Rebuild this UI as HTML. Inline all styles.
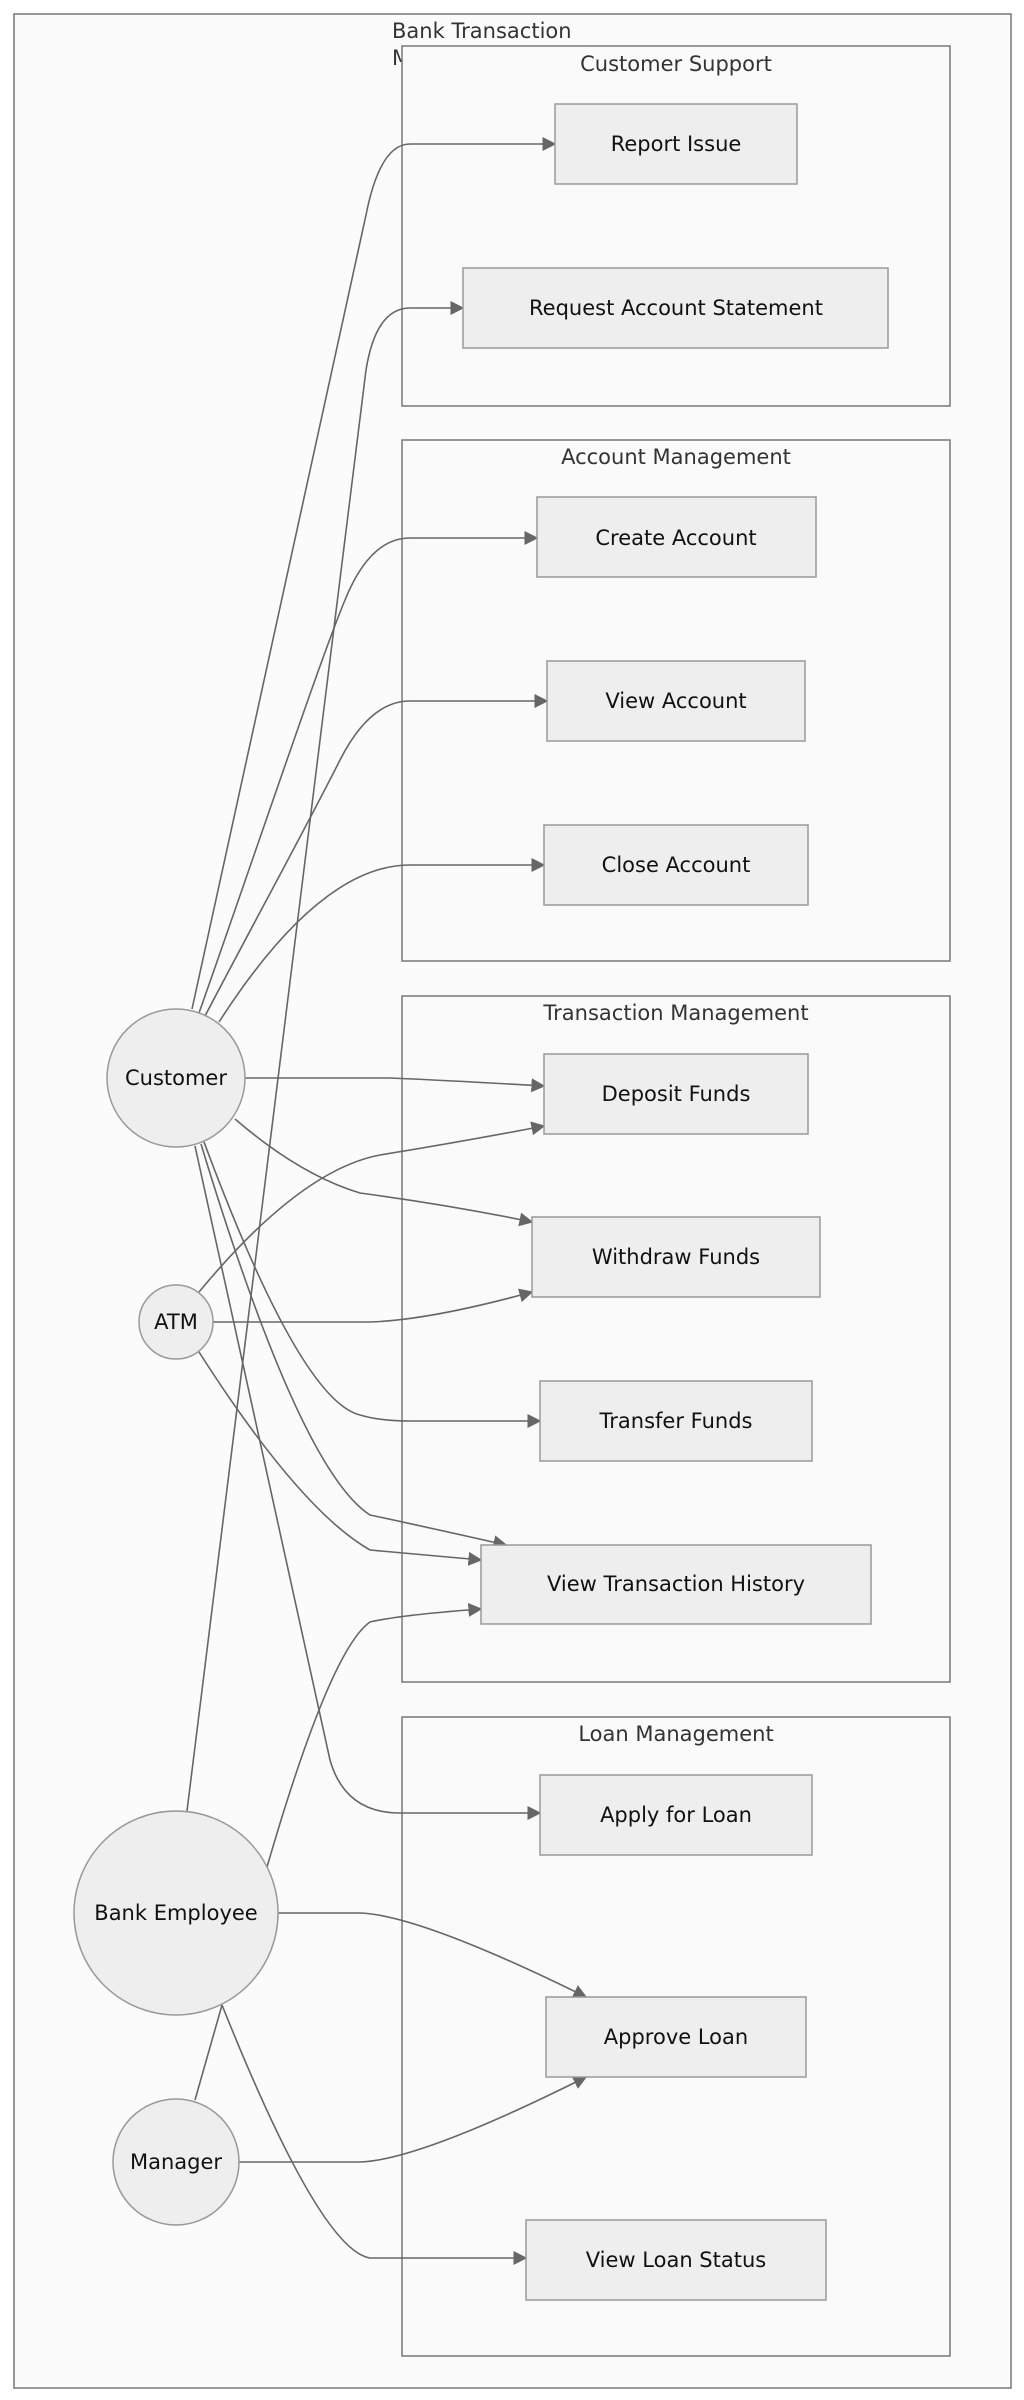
<!DOCTYPE html>
<html><head><meta charset="utf-8"><style>
html,body{margin:0;padding:0;background:#fff;}
svg{display:block;}
text{font-family:"DejaVu Sans","Liberation Sans",sans-serif;}
.n{fill:#eeeeee;stroke:#999;stroke-width:1.5;}
.c{fill:#fafafa;stroke:#777;stroke-width:1.5;}
.e{fill:none;stroke:#666;stroke-width:1.6;}
.t{font-size:21px;fill:#111;text-anchor:middle;dominant-baseline:central;}
.ct{font-size:21px;fill:#333;text-anchor:middle;dominant-baseline:central;}
</style></head><body>
<svg width="1024" height="2400" viewBox="0 0 1024 2400" xmlns="http://www.w3.org/2000/svg">
<defs>
<marker id="b" viewBox="0 0 10 10" refX="9" refY="5" markerWidth="14" markerHeight="14" orient="auto" markerUnits="userSpaceOnUse"><path d="M0,0L10,5L0,10z" fill="#666"/></marker></defs>
<rect x="14" y="14" width="997" height="2374" fill="#fbfbfb" stroke="#777" stroke-width="1.5"/>
<text x="392" y="31" font-size="21" fill="#333" dominant-baseline="central">Bank Transaction</text>
<text x="392" y="58" font-size="21" fill="#333" dominant-baseline="central">Management</text>
<rect class="c" x="402" y="46" width="548" height="360"/>
<text class="ct" x="676" y="64">Customer Support</text>
<rect class="c" x="402" y="440" width="548" height="521"/>
<text class="ct" x="676" y="457">Account Management</text>
<rect class="c" x="402" y="996" width="548" height="686"/>
<text class="ct" x="676" y="1013">Transaction Management</text>
<rect class="c" x="402" y="1717" width="548" height="639"/>
<text class="ct" x="676" y="1734">Loan Management</text>

<g class="e">
<path marker-end="url(#b)" d="M192,1009 L366,215 Q380,144 410,144 L555,144"/>
<path marker-end="url(#b)" d="M187,1811 L366,370 Q376,308 410,308 L463,308"/>
<path marker-end="url(#b)" d="M199,1013 C260,840 320,660 345,600 Q370,538 410,538 L537,538"/>
<path marker-end="url(#b)" d="M205,1016 C250,930 310,820 340,760 Q370,701 410,701 L547,701"/>
<path marker-end="url(#b)" d="M219,1022 Q320,865 410,865 L544,865"/>
<path marker-end="url(#b)" d="M245,1078 L390,1078 Q440,1080 544,1086"/>
<path marker-end="url(#b)" d="M235,1119 Q300,1175 360,1193 Q450,1205 532,1222"/>
<path marker-end="url(#b)" d="M204,1142 Q300,1400 360,1415 Q380,1421 410,1421 L540,1421"/>
<path marker-end="url(#b)" d="M201,1144 Q300,1470 370,1515 Q440,1530 506,1545"/>
<path marker-end="url(#b)" d="M195,1146 L330,1760 Q345,1813 400,1813 L540,1813"/>
<path marker-end="url(#b)" d="M199,1292 Q300,1170 380,1155 Q460,1142 544,1126"/>
<path marker-end="url(#b)" d="M213,1322 L370,1322 Q430,1320 532,1292"/>
<path marker-end="url(#b)" d="M199,1352 Q300,1510 370,1550 L481,1560"/>
<path marker-end="url(#b)" d="M267,1867 Q330,1650 370,1622 Q400,1615 481,1609"/>
<path marker-end="url(#b)" d="M278,1913 L360,1913 Q420,1915 586,1997"/>
<path marker-end="url(#b)" d="M222,2005 Q320,2250 370,2258 L526,2258"/>
<path d="M195,2100 L222,2005"/>
<path marker-end="url(#b)" d="M239,2162 L360,2162 Q420,2160 586,2077"/>
</g>

<rect class="n" x="555" y="104" width="242" height="80"/><text class="t" x="676" y="144">Report Issue</text>
<rect class="n" x="463" y="268" width="425" height="80"/><text class="t" x="676" y="308">Request Account Statement</text>
<rect class="n" x="537" y="497" width="279" height="80"/><text class="t" x="676" y="538">Create Account</text>
<rect class="n" x="547" y="661" width="258" height="80"/><text class="t" x="676" y="701">View Account</text>
<rect class="n" x="544" y="825" width="264" height="80"/><text class="t" x="676" y="865">Close Account</text>
<rect class="n" x="544" y="1054" width="264" height="80"/><text class="t" x="676" y="1094">Deposit Funds</text>
<rect class="n" x="532" y="1217" width="288" height="80"/><text class="t" x="676" y="1257">Withdraw Funds</text>
<rect class="n" x="540" y="1381" width="272" height="80"/><text class="t" x="676" y="1421">Transfer Funds</text>
<rect class="n" x="481" y="1545" width="390" height="79"/><text class="t" x="676" y="1584">View Transaction History</text>
<rect class="n" x="540" y="1775" width="272" height="80"/><text class="t" x="676" y="1815">Apply for Loan</text>
<rect class="n" x="546" y="1997" width="260" height="80"/><text class="t" x="676" y="2037">Approve Loan</text>
<rect class="n" x="526" y="2220" width="300" height="80"/><text class="t" x="676" y="2260">View Loan Status</text>

<circle class="n" cx="176" cy="1078" r="69"/><text class="t" x="176" y="1078">Customer</text>
<circle class="n" cx="176" cy="1322" r="37"/><text class="t" x="176" y="1322">ATM</text>
<circle class="n" cx="176" cy="1913" r="102"/><text class="t" x="176" y="1913">Bank Employee</text>
<circle class="n" cx="176" cy="2162" r="63"/><text class="t" x="176" y="2162">Manager</text>
</svg>
</body></html>
